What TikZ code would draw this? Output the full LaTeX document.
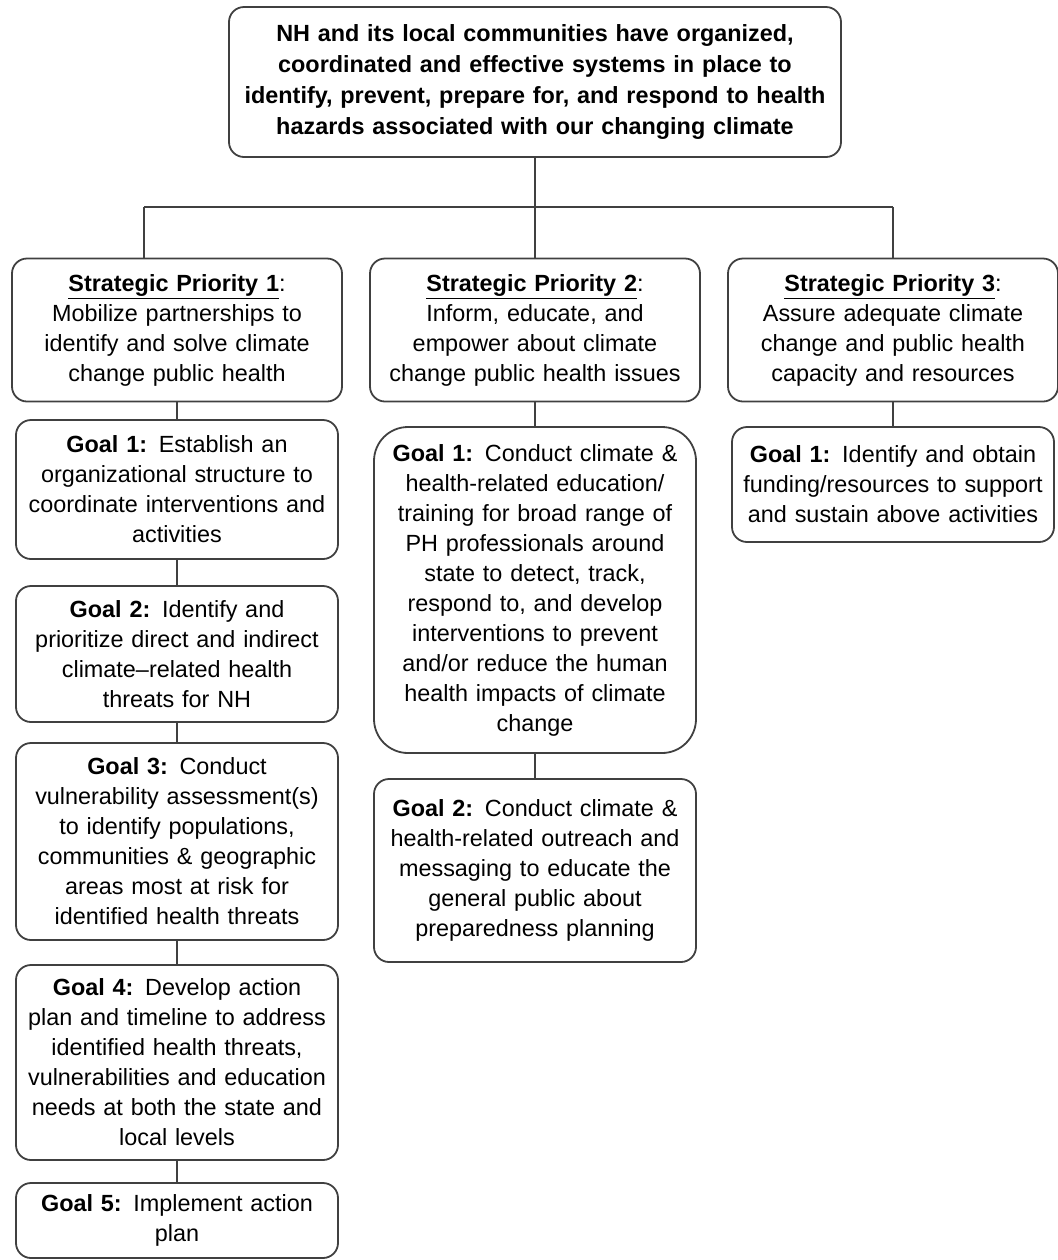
\documentclass[tikz,border=0pt]{standalone}
\usepackage{fontspec}
\setmainfont{Liberation Sans}
\usepackage{tikz}
\usetikzlibrary{positioning}
\tikzstyle{every node}+=[inner sep=0pt]
\tikzstyle{block} = [rectangle, draw=black!75, line width=0.9pt, text centered, rounded corners=7.5pt, font=\fontsize{11.7}{15}\selectfont, minimum width=161pt, text width=158pt]
\tikzstyle{priority} = [block, minimum width=165pt, text width=163pt, minimum height=71.5pt]
\tikzstyle{line} = [draw, black!75, line width=0.8pt]

\begin{document}
\begin{tikzpicture}[node distance = 2cm, auto, every text node part/.style={align=center}]
            \useasboundingbox (0,0) rectangle (529pt,-630pt);
            % Place nodes
            \node [block, font=\fontsize{11.7}{15.5}\selectfont\bfseries, minimum width=306pt, text width=302pt, minimum height=75pt] (top) at (267.5pt,-41pt) {NH and its local communities have organized,\\coordinated and effective systems in place to\\identify, prevent, prepare for, and respond to health\\hazards associated with our changing climate};
            \node [priority, below of=top, node distance=124pt] (sp2) {\underline{\textbf{Strategic Priority 2}}:\\Inform, educate, and\\empower about climate\\change public health issues};
            \node [priority, left of=sp2, node distance=179pt] (sp1) {\underline{\textbf{Strategic Priority 1}}:\\Mobilize partnerships to\\identify and solve climate\\change public health};
            \node [priority, right of=sp2, node distance=179pt] (sp3) {\underline{\textbf{Strategic Priority 3}}:\\Assure adequate climate\\change and public health\\capacity and resources};
            \node [block, below of=sp1, node distance=79.75pt, minimum height=69.5pt] (g11) {\textbf{Goal 1:}\enspace Establish an\\organizational structure to\\coordinate interventions and\\activities};
            \node [block, below of=g11, node distance=82.25pt, minimum height=68pt] (g12) {\textbf{Goal 2:}\enspace Identify and\\prioritize direct and indirect\\climate--related health\\threats for NH};
            \node [block, below of=g12, node distance=93.75pt, minimum height=98.5pt] (g13) {\textbf{Goal 3:}\enspace Conduct\\vulnerability assessment(s)\\to identify populations,\\communities \& geographic\\areas most at risk for\\identified health threats};
            \node [block, below of=g13, node distance=110.5pt, minimum height=97.5pt] (g14) {\textbf{Goal 4:}\enspace Develop action\\plan and timeline to address\\identified health threats,\\vulnerabilities and education\\needs at both the state and\\local levels};
            \node [block, below of=g14, node distance=79pt, minimum height=37.5pt] (g15) {\textbf{Goal 5:}\enspace Implement action\\plan};
            \node [block, below of=sp2, node distance=130pt, minimum height=163pt, rounded corners=17pt] (g21) {\textbf{Goal 1:}\enspace Conduct climate \&\\health-related education/\\training for broad range of\\PH professionals around\\state to detect, track,\\respond to, and develop\\interventions to prevent\\and/or reduce the human\\health impacts of climate\\change};
            \node [block, below of=g21, node distance=140.25pt, minimum height=91.5pt] (g22) {\textbf{Goal 2:}\enspace Conduct climate \&\\health-related outreach and\\messaging to educate the\\general public about\\preparedness planning};
            \node [block, below of=sp3, node distance=77.25pt, minimum height=57.5pt] (g31) {\textbf{Goal 1:}\enspace Identify and obtain\\funding/resources to support\\and sustain above activities};
            \coordinate (hub) at ([yshift=-24.5pt]top.south);
            \path (hub -| sp1) ++(-16.5pt,0) coordinate (hubl);
            \coordinate (hubr) at (hub -| sp3);
            % Draw edges
            \path [line] (top) -- (sp2);
            \path [line] (hubl) -- (hubr);
            \path [line] (hubl) -- (hubl |- sp1.north);
            \path [line] (hubr) -- (sp3);
            \path [line] (sp1) -- (g11);
            \path [line] (g11) -- (g12);
            \path [line] (g12) -- (g13);
            \path [line] (g13) -- (g14);
            \path [line] (g14) -- (g15);
            \path [line] (sp2) -- (g21);
            \path [line] (g21) -- (g22);
            \path [line] (sp3) -- (g31);
            \end{tikzpicture}
\end{document}
